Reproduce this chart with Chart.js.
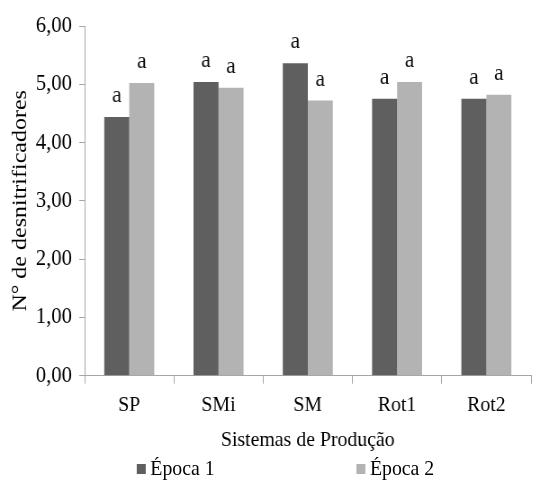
<!DOCTYPE html>
<html>
<head>
<meta charset="utf-8">
<script src="https://cdn.jsdelivr.net/npm/chart.js@4.4.0/dist/chart.umd.min.js"></script>
<style>
  html, body { margin: 0; padding: 0; background: #fff; overflow: hidden; }
  /* o original tem o texto levemente comprimido na horizontal */
  #wrap { position: relative; width: 601px; height: 486px; transform: scaleX(0.9); transform-origin: 0 0; }
  #legenda { position: absolute; top: 454px; left: 0; width: 601px; height: 28px;
             font: 22px "Liberation Serif", serif; color: #000; }
  #legenda span.item { position: absolute; top: 0; white-space: nowrap; line-height: 28px; }
  #legenda span.caixa { display: inline-block; width: 10px; height: 10px; margin-right: 5px; vertical-align: 1px; }
</style>
</head>
<body>
<div id="wrap">
  <canvas id="grafico"></canvas>
  <div id="legenda"></div>
</div>
<script>
// dados
const sistemas = ['SP', 'SMi', 'SM', 'Rot1', 'Rot2'];
const epoca1 = [4.44, 5.04, 5.36, 4.75, 4.75];
const epoca2 = [5.02, 4.94, 4.72, 5.04, 4.82];
const letras1 = ['a', 'a', 'a', 'a', 'a'];
const letras2 = ['a', 'a', 'a', 'a', 'a'];
const nomesEpocas = ['Época 1', 'Época 2'];
const cores = ['#5f5f5f', '#b3b3b3'];

const fonte = '"Liberation Serif", "DejaVu Serif", serif';
Chart.defaults.font.family = fonte;
Chart.defaults.color = '#000';

// escreve as letras acima das barras
const letrasPlugin = {
    id: 'letras',
    afterDatasetsDraw(chart) {
        const ctx = chart.ctx;
        ctx.save();
        ctx.font = '24px ' + fonte;
        ctx.fillStyle = '#111';
        ctx.textAlign = 'center';
        ctx.textBaseline = 'alphabetic';
        [letras1, letras2].forEach((letras, i) => {
            chart.getDatasetMeta(i).data.forEach((bar, j) => {
                ctx.fillText(letras[j], bar.x, bar.y - 15);
            });
        });
        ctx.restore();
    }
};

const ctx = document.getElementById('grafico').getContext('2d');
const grafico = new Chart(ctx, {
    type: 'bar',
    data: {
        labels: sistemas,
        datasets: [
            {
                label: nomesEpocas[0],
                data: epoca1,
                backgroundColor: cores[0],
                categoryPercentage: 0.56,
                barPercentage: 1.0,
            },
            {
                label: nomesEpocas[1],
                data: epoca2,
                backgroundColor: cores[1],
                categoryPercentage: 0.56,
                barPercentage: 1.0,
            },
        ],
    },
    options: {
        responsive: true,
        maintainAspectRatio: false,
        animation: false,
        layout: { padding: { top: 26, right: 11, left: 8, bottom: 33 } },
        scales: {
            x: {
                grid: { drawOnChartArea: false, tickLength: 8, color: '#a6a6a6' },
                border: { color: '#a6a6a6' },
                ticks: { font: { size: 22, lineHeight: 0.77 }, padding: 13 },
                title: {
                    display: true,
                    text: 'Sistemas de Produção',
                    font: { size: 22 },
                    padding: { top: 0, bottom: 0 },
                },
            },
            y: {
                min: 0,
                max: 6,
                afterFit: (scale) => { scale.width = 86; },
                ticks: {
                    stepSize: 1,
                    font: { size: 23 },
                    padding: 8,
                    callback: (v) => v.toFixed(2).replace('.', ','),
                },
                grid: { drawOnChartArea: false, tickLength: 6, color: '#a6a6a6' },
                border: { color: '#a6a6a6' },
                title: {
                    display: true,
                    text: 'N° de desnitrificadores',
                    font: { size: 24 },
                    padding: { top: 0, bottom: 0 },
                },
            },
        },
        plugins: {
            legend: { display: false },
            tooltip: { enabled: false },
        },
    },
    plugins: [letrasPlugin],
});

// legenda em HTML, afastada como no original
const posLegenda = [152, 396];
const legenda = document.getElementById('legenda');
grafico.data.datasets.forEach((ds, i) => {
    const item = document.createElement('span');
    item.className = 'item';
    item.style.left = posLegenda[i] + 'px';
    const caixa = document.createElement('span');
    caixa.className = 'caixa';
    caixa.style.background = ds.backgroundColor;
    item.appendChild(caixa);
    item.appendChild(document.createTextNode(ds.label));
    legenda.appendChild(item);
});
</script>
</body>
</html>
